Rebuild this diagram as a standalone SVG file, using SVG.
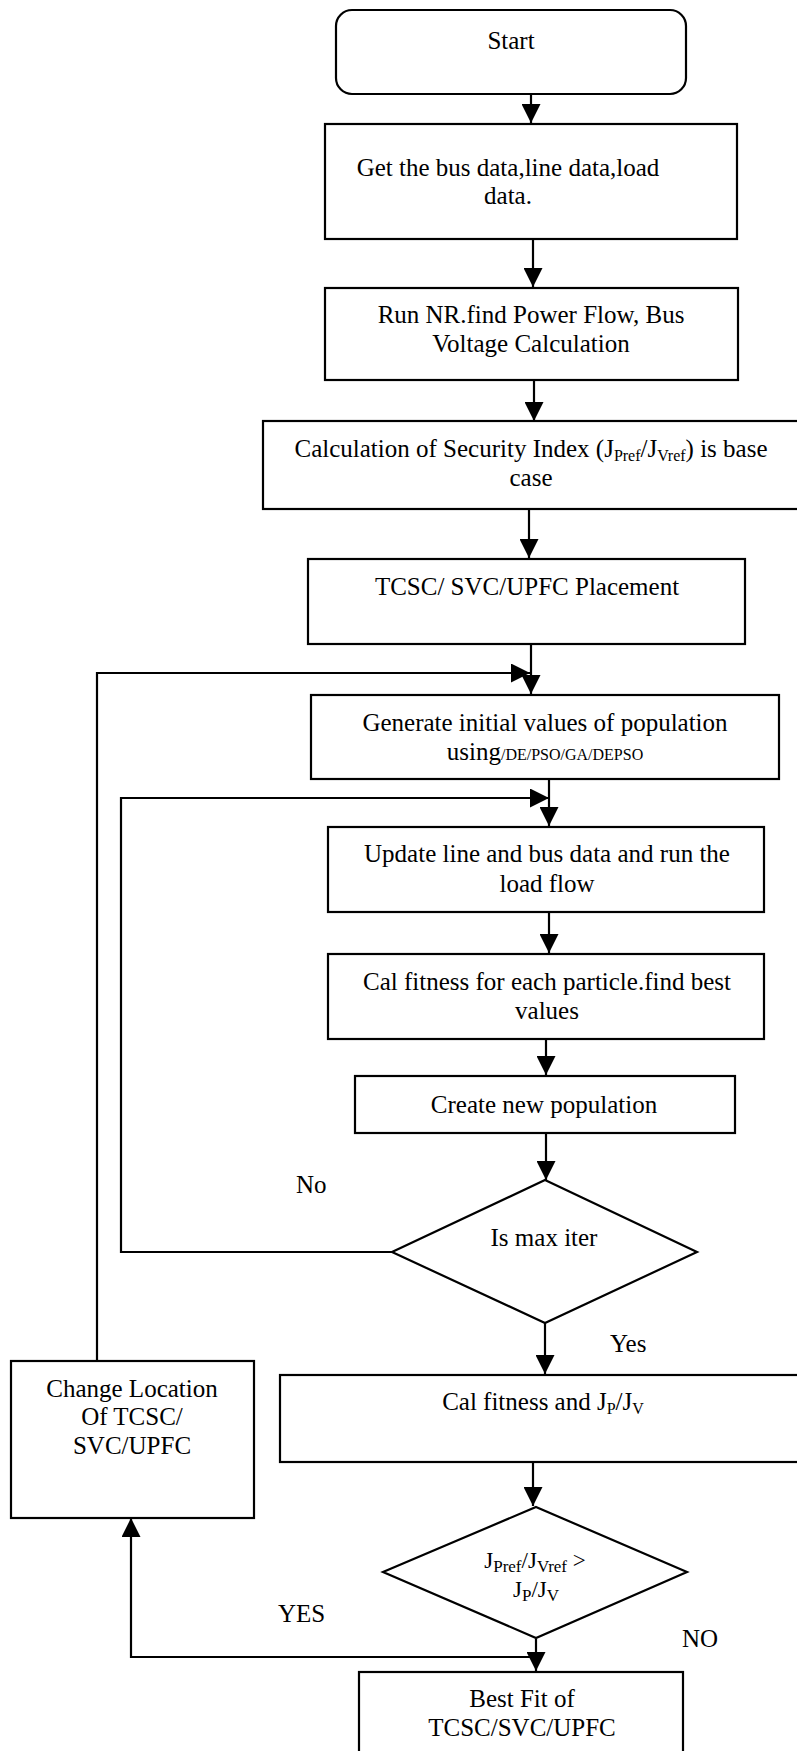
<svg xmlns="http://www.w3.org/2000/svg" width="797" height="1751" viewBox="0 0 797 1751">
<defs>
<style>
.box{fill:#fff;stroke:#000;stroke-width:2.2}
.ln{fill:none;stroke:#000;stroke-width:2.2}
.t{font-family:"Liberation Serif","Times New Roman",serif;font-size:25px;fill:#000;text-anchor:middle}
.l{font-family:"Liberation Serif","Times New Roman",serif;font-size:25px;fill:#000}
.s{font-size:16px}
.s2{font-size:17px}
</style>
<marker id="ah" markerUnits="userSpaceOnUse" markerWidth="19" markerHeight="19" viewBox="0 0 19 19" refX="19" refY="9.5" orient="auto">
<path d="M0,0 L19,9.5 L0,19 z" fill="#000"/>
</marker>
</defs>
<rect width="797" height="1751" fill="#fff"/>

<g id="connectors">
<line class="ln" x1="531" y1="94" x2="531" y2="123" marker-end="url(#ah)"/>
<line class="ln" x1="533" y1="239" x2="533" y2="287" marker-end="url(#ah)"/>
<line class="ln" x1="534" y1="380" x2="534" y2="421" marker-end="url(#ah)"/>
<line class="ln" x1="529" y1="509" x2="529" y2="558" marker-end="url(#ah)"/>
<line class="ln" x1="531" y1="644" x2="531" y2="694" marker-end="url(#ah)"/>
<polyline class="ln" points="97,1361 97,673 530,673" marker-end="url(#ah)"/>
<line class="ln" x1="549" y1="779" x2="549" y2="826" marker-end="url(#ah)"/>
<polyline class="ln" points="392,1252 121,1252 121,798 549,798" marker-end="url(#ah)"/>
<line class="ln" x1="549" y1="912" x2="549" y2="953" marker-end="url(#ah)"/>
<line class="ln" x1="546" y1="1039" x2="546" y2="1075" marker-end="url(#ah)"/>
<line class="ln" x1="546" y1="1133" x2="546" y2="1180" marker-end="url(#ah)"/>
<line class="ln" x1="545" y1="1323" x2="545" y2="1374" marker-end="url(#ah)"/>
<line class="ln" x1="533" y1="1462" x2="533" y2="1506" marker-end="url(#ah)"/>
<line class="ln" x1="536" y1="1639" x2="536" y2="1671" marker-end="url(#ah)"/>
<polyline class="ln" points="536,1657 131,1657 131,1518" marker-end="url(#ah)"/>
</g>

<g id="start">
<rect class="box" x="336" y="10" width="350" height="84" rx="16"/>
<text class="t" x="511" y="49">Start</text>
</g>

<g id="get-data">
<rect class="box" x="325" y="124" width="412" height="115"/>
<text class="t" x="508" y="176">Get the bus data,line data,load</text>
<text class="t" x="508" y="204">data.</text>
</g>

<g id="run-nr">
<rect class="box" x="325" y="288" width="413" height="92"/>
<text class="t" x="531" y="323">Run NR.find Power Flow, Bus</text>
<text class="t" x="531" y="352">Voltage Calculation</text>
</g>

<g id="security-index">
<rect class="box" x="263" y="421" width="560" height="88"/>
<text class="t" x="531" y="457">Calculation of Security Index (J<tspan class="s" dy="4">Pref</tspan><tspan dy="-4">/J</tspan><tspan class="s" dy="4">Vref</tspan><tspan dy="-4">) is base</tspan></text>
<text class="t" x="531" y="486">case</text>
</g>

<g id="placement">
<rect class="box" x="308" y="559" width="437" height="85"/>
<text class="t" x="527" y="595">TCSC/ SVC/UPFC Placement</text>
</g>

<g id="generate">
<rect class="box" x="311" y="695" width="468" height="84"/>
<text class="t" x="545" y="731">Generate initial values of population</text>
<text class="t" x="545" y="760">using<tspan class="s">/DE/PSO/GA/DEPSO</tspan></text>
</g>

<g id="update">
<rect class="box" x="328" y="827" width="436" height="85"/>
<text class="t" x="547" y="862">Update line and bus data and run the</text>
<text class="t" x="547" y="892">load flow</text>
</g>

<g id="cal-fitness">
<rect class="box" x="328" y="954" width="436" height="85"/>
<text class="t" x="547" y="990">Cal fitness for each particle.find best</text>
<text class="t" x="547" y="1019">values</text>
</g>

<g id="create">
<rect class="box" x="355" y="1076" width="380" height="57"/>
<text class="t" x="544" y="1113">Create new population</text>
</g>

<g id="max-iter">
<polygon class="box" points="545,1180 697,1252 545,1323 392,1252"/>
<text class="t" x="544" y="1246">Is max iter</text>
</g>

<text class="l" x="296" y="1193">No</text>
<text class="l" x="610" y="1352">Yes</text>

<g id="cal-fitness-jp">
<rect class="box" x="280" y="1375" width="540" height="87"/>
<text class="t" x="543" y="1410">Cal fitness and J<tspan class="s" dy="4">P</tspan><tspan dy="-4">/J</tspan><tspan class="s" dy="4">V</tspan></text>
</g>

<g id="change-location">
<rect class="box" x="11" y="1361" width="243" height="157"/>
<text class="t" x="132" y="1397">Change Location</text>
<text class="t" x="132" y="1425">Of TCSC/</text>
<text class="t" x="132" y="1454">SVC/UPFC</text>
</g>

<g id="compare">
<polygon class="box" points="536,1507 687,1572 536,1638 383,1572"/>
<text class="t" x="535" y="1568" style="font-size:23px">J<tspan class="s2" dy="4">Pref</tspan><tspan dy="-4">/J</tspan><tspan class="s2" dy="4">Vref</tspan><tspan dy="-4"> &gt;</tspan></text>
<text class="t" x="536" y="1597" style="font-size:23px">J<tspan class="s2" dy="4">P</tspan><tspan dy="-4">/J</tspan><tspan class="s2" dy="4">V</tspan></text>
</g>

<text class="l" x="278" y="1622">YES</text>
<text class="l" x="682" y="1647">NO</text>

<g id="best-fit">
<rect class="box" x="359" y="1672" width="324" height="100"/>
<text class="t" x="522" y="1707">Best Fit of</text>
<text class="t" x="522" y="1736">TCSC/SVC/UPFC</text>
</g>
</svg>
